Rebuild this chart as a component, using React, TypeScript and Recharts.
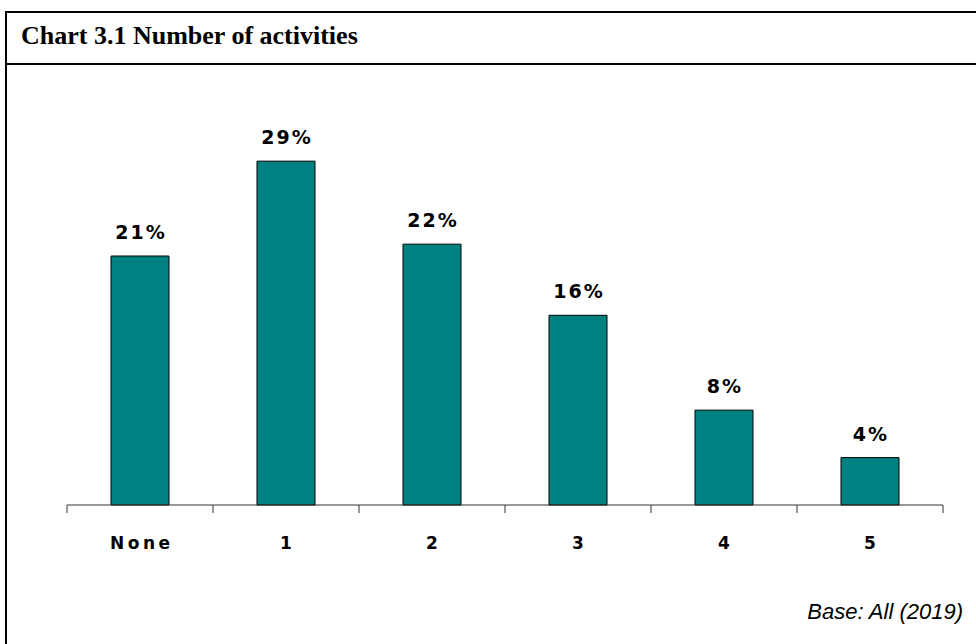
import { BarChart, Bar, XAxis, YAxis, LabelList } from "recharts";

const categories = ["None", "1", "2", "3", "4", "5"];
const shares = [21, 29, 22, 16, 8, 4];
const yDomain = [0, 35];

const data = categories.map((name, i) => ({ name, share: shares[i] }));

const W = 976;
const H = 644;
const PLOT_LEFT = 67;
const PLOT_RIGHT = 943;
const AXIS_Y = 505;
const TICK_SIZE = 8;
const TICK_MARGIN = 24;
const BAND = (PLOT_RIGHT - PLOT_LEFT) / categories.length;

const labelFont = "'DejaVu Sans', Verdana, sans-serif";

function CategoryTick(props: any) {
  const { x, y, payload, index } = props;
  const half = BAND / 2;
  const lineY = y - TICK_SIZE - TICK_MARGIN;
  return (
    <g>
      <line x1={x - half} x2={x - half} y1={lineY} y2={lineY + TICK_SIZE} stroke="#333" />
      {index === categories.length - 1 && (
        <line x1={x + half} x2={x + half} y1={lineY} y2={lineY + TICK_SIZE} stroke="#333" />
      )}
      <text
        x={x + 1.75}
        y={y}
        dy="0.71em"
        textAnchor="middle"
        fontFamily={labelFont}
        fontWeight="bold"
        fontSize={17}
        letterSpacing={3.5}
        fill="#000"
      >
        {payload.value}
      </text>
    </g>
  );
}

function ValueLabel(props: any) {
  const { x, y, width, value } = props;
  return (
    <text
      x={x + width / 2 + 1}
      y={y - 17}
      textAnchor="middle"
      fontFamily={labelFont}
      fontWeight="bold"
      fontSize={19}
      letterSpacing={2}
      fill="#000"
    >
      {value}%
    </text>
  );
}

export default function App() {
  return (
    <div
      style={{
        position: "absolute",
        left: 0,
        top: 0,
        width: W,
        height: H,
        overflow: "hidden",
        background: "#fff",
      }}
    >
      {/* frame: left + top border, title separator */}
      <div
        style={{
          position: "absolute",
          left: 5,
          top: 11,
          width: 1100,
          height: 800,
          borderLeft: "2px solid #000",
          borderTop: "2px solid #000",
        }}
      />
      <div style={{ position: "absolute", left: 5, top: 63, width: 1100, height: 2, background: "#000" }} />
      <div
        style={{
          position: "absolute",
          left: 21,
          top: 23,
          fontFamily: "'Liberation Serif', 'DejaVu Serif', serif",
          fontWeight: "bold",
          fontSize: 26,
          lineHeight: "26px",
          whiteSpace: "nowrap",
          color: "#000",
        }}
      >
        Chart 3.1 Number of activities
      </div>

      <div style={{ position: "absolute", left: 0, top: 0 }}>
        <BarChart
          width={W}
          height={H}
          data={data}
          margin={{ top: 90, right: W - PLOT_RIGHT, bottom: H - AXIS_Y - 30, left: PLOT_LEFT }}
        >
          <YAxis hide domain={yDomain} />
          <XAxis
            dataKey="name"
            height={30}
            axisLine={{ stroke: "#333" }}
            tickLine={false}
            tickSize={TICK_SIZE}
            tickMargin={TICK_MARGIN}
            interval={0}
            tick={<CategoryTick />}
          />
          <Bar dataKey="share" fill="#008080" stroke="#000" strokeWidth={1} barSize={58} isAnimationActive={false}>
            <LabelList dataKey="share" content={<ValueLabel />} />
          </Bar>
        </BarChart>
      </div>

      <div
        style={{
          position: "absolute",
          right: 13,
          top: 601,
          fontFamily: "'Liberation Sans', Arial, sans-serif",
          fontStyle: "italic",
          fontSize: 22,
          lineHeight: "22px",
          whiteSpace: "nowrap",
          color: "#000",
        }}
      >
        Base: All (2019)
      </div>
    </div>
  );
}
